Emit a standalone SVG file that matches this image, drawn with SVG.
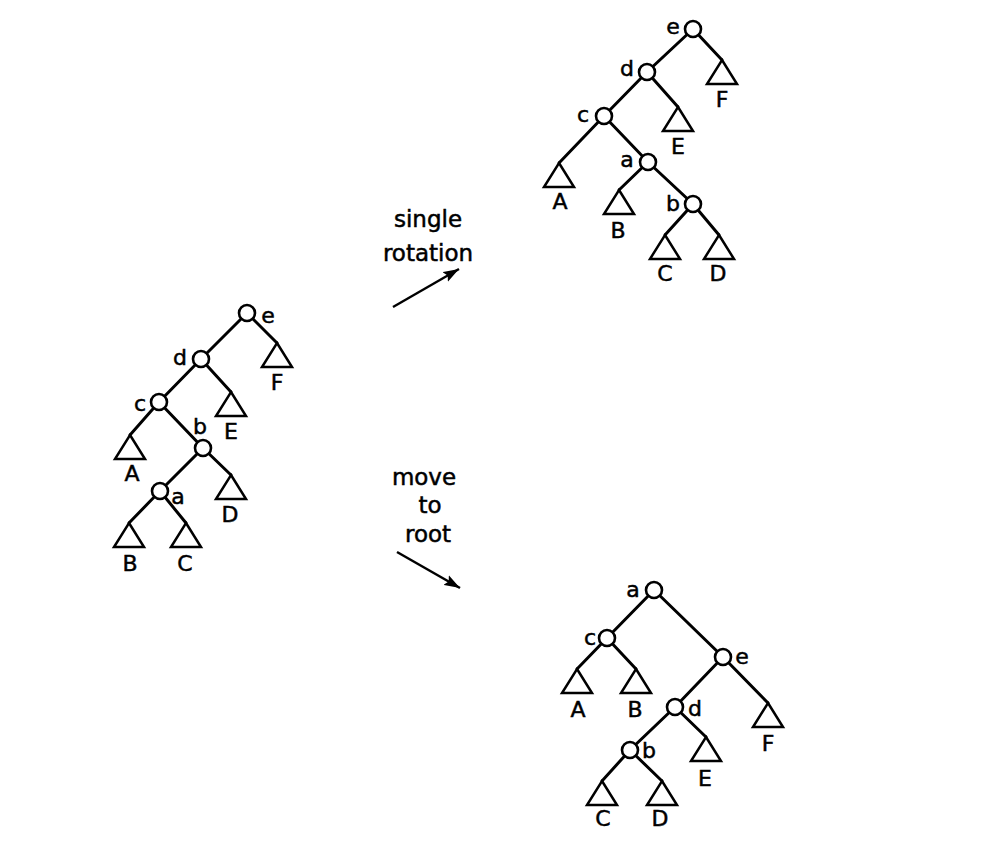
<svg xmlns="http://www.w3.org/2000/svg" width="1005" height="846" viewBox="0 0 1005 846">
<style>
.edge{stroke:#000;stroke-width:3;fill:none;stroke-linecap:round}
.node circle{fill:#fff;stroke:#000;stroke-width:2.6}
.tri{fill:#fff;stroke:#000;stroke-width:2.5;stroke-linejoin:miter}
.lbl{font-family:"DejaVu Sans",sans-serif;font-size:22px;fill:#000;stroke:#000;stroke-width:0.5;text-anchor:middle}
.cap{font-family:"DejaVu Sans",sans-serif;font-size:23px;fill:#000;stroke:#000;stroke-width:0.5;text-anchor:middle}
.arr{stroke:#000;stroke-width:2.4;fill:none}
</style>
<defs>
<marker id="ah" markerUnits="userSpaceOnUse" markerWidth="18" markerHeight="12" refX="16" refY="6" orient="auto">
<path d="M0,0.5 L16,6 L0,11.5 L3,6 Z" fill="#000"/>
</marker>
<path id="t" class="tri" d="M0,0 L15,24 L-15,24 Z"/>
</defs>
<rect width="1005" height="846" fill="#fff"/>

<!-- connectors -->
<g id="connectors">
<!-- left tree -->
<path class="edge" d="M247,313 L201,359 L159,402 L130,435 M247,313 L277,343 M201,359 L231,392 M159,402 L203,448 L160,491 L129,523 M203,448 L231,475 M160,491 L186,523"/>
<!-- top right -->
<path class="edge" d="M693,29 L647,72 L604,116 L559,163 M693,29 L722,60 M647,72 L678,107 M604,116 L648,162 L693,204 L665,235 M648,162 L619,190 M693,204 L719,235"/>
<!-- bottom right -->
<path class="edge" d="M654,590 L607,638 L577,669 M607,638 L636,669 M654,590 L723,657 L768,703 M723,657 L675,707 L630,750 L602,781 M675,707 L706,737 M630,750 L662,781"/>
<!-- transformation arrows -->
<line class="arr" x1="393" y1="307" x2="459" y2="269" marker-end="url(#ah)"/>
<line class="arr" x1="397" y1="552" x2="460" y2="588" marker-end="url(#ah)"/>
</g>

<!-- left tree -->
<g id="L-e" class="node"><circle cx="247" cy="313" r="8"/><text class="lbl" x="268" y="323">e</text></g>
<g id="L-d" class="node"><circle cx="201" cy="359" r="8"/><text class="lbl" x="180" y="365">d</text></g>
<g id="L-c" class="node"><circle cx="159" cy="402" r="8"/><text class="lbl" x="140" y="411">c</text></g>
<g id="L-b" class="node"><circle cx="203" cy="448" r="8"/><text class="lbl" x="200" y="434">b</text></g>
<g id="L-a" class="node"><circle cx="160" cy="491" r="8"/><text class="lbl" x="178" y="504">a</text></g>
<g id="L-F"><use href="#t" x="277" y="343"/><text class="lbl" x="277" y="390">F</text></g>
<g id="L-E"><use href="#t" x="231" y="392"/><text class="lbl" x="231" y="439">E</text></g>
<g id="L-A"><use href="#t" x="130" y="435"/><text class="lbl" x="132" y="481">A</text></g>
<g id="L-D"><use href="#t" x="231" y="475"/><text class="lbl" x="230" y="522">D</text></g>
<g id="L-B"><use href="#t" x="129" y="523"/><text class="lbl" x="130" y="571">B</text></g>
<g id="L-C"><use href="#t" x="186" y="523"/><text class="lbl" x="185" y="571">C</text></g>

<!-- top right tree -->
<g id="R1-e" class="node"><circle cx="693" cy="29" r="8"/><text class="lbl" x="673" y="34">e</text></g>
<g id="R1-d" class="node"><circle cx="647" cy="72" r="8"/><text class="lbl" x="627" y="76">d</text></g>
<g id="R1-c" class="node"><circle cx="604" cy="116" r="8"/><text class="lbl" x="583" y="122">c</text></g>
<g id="R1-a" class="node"><circle cx="648" cy="162" r="8"/><text class="lbl" x="627" y="167">a</text></g>
<g id="R1-b" class="node"><circle cx="693" cy="204" r="8"/><text class="lbl" x="673" y="211">b</text></g>
<g id="R1-F"><use href="#t" x="722" y="60"/><text class="lbl" x="722" y="107">F</text></g>
<g id="R1-E"><use href="#t" x="678" y="107"/><text class="lbl" x="678" y="154">E</text></g>
<g id="R1-A"><use href="#t" x="559" y="163"/><text class="lbl" x="560" y="209">A</text></g>
<g id="R1-B"><use href="#t" x="619" y="190"/><text class="lbl" x="618" y="238">B</text></g>
<g id="R1-C"><use href="#t" x="665" y="235"/><text class="lbl" x="665" y="281">C</text></g>
<g id="R1-D"><use href="#t" x="719" y="235"/><text class="lbl" x="718" y="281">D</text></g>

<!-- bottom right tree -->
<g id="R2-a" class="node"><circle cx="654" cy="590" r="8"/><text class="lbl" x="633" y="597">a</text></g>
<g id="R2-c" class="node"><circle cx="607" cy="638" r="8"/><text class="lbl" x="590" y="645">c</text></g>
<g id="R2-e" class="node"><circle cx="723" cy="657" r="8"/><text class="lbl" x="742" y="664">e</text></g>
<g id="R2-d" class="node"><circle cx="675" cy="707" r="8"/><text class="lbl" x="695" y="716">d</text></g>
<g id="R2-b" class="node"><circle cx="630" cy="750" r="8"/><text class="lbl" x="649" y="758">b</text></g>
<g id="R2-A"><use href="#t" x="577" y="669"/><text class="lbl" x="578" y="717">A</text></g>
<g id="R2-B"><use href="#t" x="636" y="669"/><text class="lbl" x="635" y="717">B</text></g>
<g id="R2-F"><use href="#t" x="768" y="703"/><text class="lbl" x="768" y="751">F</text></g>
<g id="R2-E"><use href="#t" x="706" y="737"/><text class="lbl" x="705" y="786">E</text></g>
<g id="R2-C"><use href="#t" x="602" y="781"/><text class="lbl" x="603" y="826">C</text></g>
<g id="R2-D"><use href="#t" x="662" y="781"/><text class="lbl" x="660" y="826">D</text></g>

<!-- arrow captions -->
<g id="cap-single">
<text class="cap" x="428" y="227">single</text>
<text class="cap" x="428" y="261">rotation</text>
</g>
<g id="cap-move">
<text class="cap" x="424" y="485">move</text>
<text class="cap" x="430" y="513">to</text>
<text class="cap" x="428" y="542">root</text>
</g>
</svg>
